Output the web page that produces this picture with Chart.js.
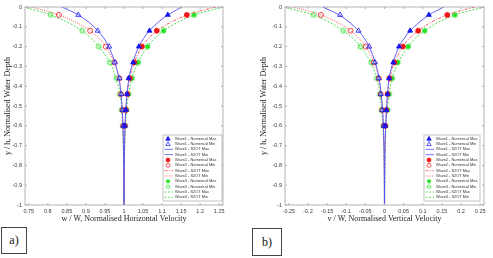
<!DOCTYPE html>
<html>
<head>
<meta charset="utf-8">
<script src="https://cdn.jsdelivr.net/npm/chart.js@4.4.0/dist/chart.umd.min.js"></script>
<style>
  html, body { margin: 0; padding: 0; background: #fff; }
  #wrap { position: relative; width: 493px; height: 258px; overflow: hidden; }
  .panel { position: absolute; top: 0; }
  .tag { position: absolute; box-sizing: border-box; border: 1px solid #444; color: #111;
         font: 12px "Liberation Serif", serif; display: flex; align-items: center; justify-content: center; }
</style>
</head>
<body>
<div id="wrap">
  <canvas id="chartA" class="panel" style="left:0" width="245" height="226"></canvas>
  <canvas id="chartB" class="panel" style="left:245px" width="248" height="226"></canvas>
  <div class="tag" style="left:1px;top:227px;width:26px;height:27px">a)</div>
  <div class="tag" style="left:252px;top:228px;width:30px;height:28px">b)</div>
</div>
<script>
// depths (y / h)
const depthPts  = [-0.04, -0.12, -0.2, -0.28, -0.36, -0.44, -0.52, -0.6];
const depthLine = [0, -0.02, -0.04, -0.08, -0.12, -0.16, -0.2, -0.28, -0.36, -0.44, -0.52, -0.6, -0.7, -0.8, -0.9, -1];

// tick labels
const yTicks  = [0, -0.1, -0.2, -0.3, -0.4, -0.5, -0.6, -0.7, -0.8, -0.9, -1];
const xTicksA = [0.75, 0.8, 0.85, 0.9, 0.95, 1, 1.05, 1.1, 1.15, 1.2, 1.25];
const xTicksB = [-0.25, -0.2, -0.15, -0.1, -0.05, 0, 0.05, 0.1, 0.15, 0.2, 0.25];

// a) horizontal velocity, numerical
const hNum1Max = [1.115, 1.067, 1.039, 1.024, 1.012, 1.008, 1.005, 1.002];
const hNum1Min = [0.880, 0.931, 0.961, 0.976, 0.988, 0.993, 0.996, 0.998];
const hNum2Max = [1.165, 1.086, 1.047, 1.027, 1.015, 1.009, 1.005, 1.002];
const hNum2Min = [0.829, 0.911, 0.952, 0.975, 0.988, 0.992, 0.996, 0.998];
const hNum3Max = [1.184, 1.104, 1.062, 1.037, 1.021, 1.012, 1.007, 1.003];
const hNum3Min = [0.807, 0.890, 0.934, 0.963, 0.980, 0.989, 0.994, 0.997];
// a) horizontal velocity, S2OT
const hLin1Max = [1.151, 1.133, 1.115, 1.088, 1.067, 1.051, 1.039, 1.023, 1.013, 1.008, 1.0045, 1.0026, 1.0013, 1.0007, 1.0003, 1.0002];
const hLin1Min = [0.837, 0.860, 0.880, 0.910, 0.931, 0.948, 0.960, 0.976, 0.987, 0.992, 0.9954, 0.9973, 0.9986, 0.9993, 0.9996, 0.9998];
const hLin2Max = [1.241, 1.200, 1.165, 1.120, 1.086, 1.064, 1.047, 1.027, 1.015, 1.008, 1.005, 1.003, 1.0015, 1.0008, 1.0004, 1.0002];
const hLin2Min = [0.757, 0.795, 0.829, 0.877, 0.911, 0.935, 0.952, 0.974, 0.987, 0.992, 0.995, 0.997, 0.9985, 0.9992, 0.9996, 0.9998];
const hLin3Max = [1.262, 1.220, 1.184, 1.138, 1.104, 1.080, 1.062, 1.037, 1.021, 1.012, 1.007, 1.004, 1.002, 1.001, 1.0005, 1.0003];
const hLin3Min = [0.735, 0.774, 0.807, 0.855, 0.890, 0.915, 0.934, 0.963, 0.979, 0.990, 0.994, 0.996, 0.998, 0.999, 0.9995, 0.9997];

// b) vertical velocity, numerical
const vNum1Max = [0.116, 0.067, 0.038, 0.023, 0.012, 0.008, 0.005, 0.002];
const vNum1Min = [-0.116, -0.068, -0.040, -0.025, -0.015, -0.010, -0.006, -0.002];
const vNum2Max = [0.164, 0.088, 0.048, 0.026, 0.013, 0.008, 0.005, 0.002];
const vNum2Min = [-0.166, -0.089, -0.049, -0.028, -0.015, -0.010, -0.006, -0.002];
const vNum3Max = [0.184, 0.105, 0.062, 0.035, 0.020, 0.012, 0.008, 0.003];
const vNum3Min = [-0.186, -0.108, -0.063, -0.035, -0.020, -0.012, -0.008, -0.003];
// b) vertical velocity, S2OT
const vLin1Max = [0.155, 0.135, 0.116, 0.089, 0.067, 0.051, 0.038, 0.022, 0.012, 0.008, 0.005, 0.003, 0.0015, 0.0008, 0.0004, 0.0002];
const vLin1Min = [-0.162, -0.139, -0.118, -0.090, -0.068, -0.052, -0.040, -0.024, -0.014, -0.009, -0.005, -0.003, -0.0015, -0.0008, -0.0004, -0.0002];
const vLin2Max = [0.235, 0.197, 0.164, 0.119, 0.088, 0.064, 0.048, 0.026, 0.014, 0.008, 0.005, 0.003, 0.0015, 0.0008, 0.0004, 0.0002];
const vLin2Min = [-0.240, -0.201, -0.166, -0.121, -0.089, -0.066, -0.049, -0.027, -0.015, -0.009, -0.005, -0.003, -0.0015, -0.0008, -0.0004, -0.0002];
const vLin3Max = [0.262, 0.220, 0.184, 0.138, 0.105, 0.080, 0.062, 0.036, 0.020, 0.012, 0.007, 0.004, 0.002, 0.001, 0.0005, 0.0003];
const vLin3Min = [-0.265, -0.224, -0.186, -0.141, -0.108, -0.082, -0.063, -0.036, -0.020, -0.012, -0.008, -0.004, -0.002, -0.001, -0.0005, -0.0003];

const legendLabels = [
  'Wave1 - Numerical Max', 'Wave1 - Numerical Min', 'Wave1 - S2OT Max', 'Wave1 - S2OT Min',
  'Wave2 - Numerical Max', 'Wave2 - Numerical Min', 'Wave2 - S2OT Max', 'Wave2 - S2OT Min',
  'Wave3 - Numerical Max', 'Wave3 - Numerical Min', 'Wave3 - S2OT Max', 'Wave3 - S2OT Min'
];

const BLUE = '#1414f0', RED = '#f01414', GREEN = '#22e022';
const BLUE_L = '#5050ff', RED_L = '#ff4a4a', GREEN_L = '#3ad83a';

function hexagram(size, fill, stroke) {
  const c = document.createElement('canvas');
  c.width = c.height = size;
  const g = c.getContext('2d');
  const cx = size / 2, cy = size / 2, r = size / 2 - 0.6;
  g.beginPath();
  for (let k = 0; k < 12; k++) {
    const a = -Math.PI / 2 + k * Math.PI / 6;
    const rr = k % 2 ? r * 0.577 : r;
    const px = cx + rr * Math.cos(a), py = cy + rr * Math.sin(a);
    k ? g.lineTo(px, py) : g.moveTo(px, py);
  }
  g.closePath();
  if (fill) { g.fillStyle = fill; g.fill(); }
  g.strokeStyle = stroke; g.lineWidth = 0.8; g.stroke();
  return c;
}
const starFull = hexagram(7, GREEN, GREEN);
const starOpen = hexagram(7, null, GREEN);

const pts = (xs, ys) => xs.map((x, i) => ({ x: x, y: ys[i] }));

function numSet(label, xs, style, color, filled) {
  return {
    label: label, data: pts(xs, depthPts), showLine: false,
    pointStyle: style, pointRadius: style === 'triangle' ? 2.9 : 2.5,
    pointBorderWidth: 0.8, borderColor: color,
    backgroundColor: filled ? color : 'rgba(0,0,0,0)'
  };
}
function lineSet(label, xs, color, dash) {
  return {
    label: label, data: pts(xs, depthLine), showLine: true, pointRadius: 0,
    borderColor: color, backgroundColor: color, borderWidth: 0.9,
    borderDash: dash, tension: 0.35
  };
}

function buildSets(n1x, n1n, l1x, l1n, n2x, n2n, l2x, l2n, n3x, n3n, l3x, l3n) {
  return [
    numSet(legendLabels[0], n1x, 'triangle', BLUE, true),
    numSet(legendLabels[1], n1n, 'triangle', BLUE, false),
    lineSet(legendLabels[2], l1x, BLUE_L, []),
    lineSet(legendLabels[3], l1n, BLUE_L, []),
    numSet(legendLabels[4], n2x, 'circle', RED, true),
    numSet(legendLabels[5], n2n, 'circle', RED, false),
    lineSet(legendLabels[6], l2x, RED_L, [3, 1.5, 1, 1.5]),
    lineSet(legendLabels[7], l2n, RED_L, [1, 1.2]),
    numSet(legendLabels[8], n3x, starFull, GREEN, true),
    numSet(legendLabels[9], n3n, starOpen, GREEN, false),
    lineSet(legendLabels[10], l3x, GREEN_L, [2, 1.6]),
    lineSet(legendLabels[11], l3n, GREEN_L, [2, 1.6])
  ];
}

// frame with inward tick marks, like the original figure
const framePlugin = {
  id: 'frame',
  afterDatasetsDraw(chart) {
    const { ctx, chartArea: a, scales } = chart;
    ctx.save();
    ctx.strokeStyle = '#a0a0a0';
    ctx.lineWidth = 0.8;
    ctx.strokeRect(a.left, a.top, a.right - a.left, a.bottom - a.top);
    ctx.beginPath();
    scales.x.ticks.forEach(t => {
      const px = scales.x.getPixelForValue(t.value);
      ctx.moveTo(px, a.bottom); ctx.lineTo(px, a.bottom - 2);
      ctx.moveTo(px, a.top); ctx.lineTo(px, a.top + 2);
    });
    scales.y.ticks.forEach(t => {
      const py = scales.y.getPixelForValue(t.value);
      ctx.moveTo(a.left, py); ctx.lineTo(a.left + 2, py);
      ctx.moveTo(a.right, py); ctx.lineTo(a.right - 2, py);
    });
    ctx.stroke();
    ctx.restore();
  }
};

// boxed legend inside the plot area
const boxLegend = {
  id: 'boxLegend',
  afterDraw(chart, args, opts) {
    const ctx = chart.ctx;
    const { x, y, w, h } = opts;
    const sets = chart.data.datasets;
    ctx.save();
    ctx.fillStyle = '#fff';
    ctx.fillRect(x, y, w, h);
    ctx.strokeStyle = '#a8a8a8';
    ctx.lineWidth = 0.7;
    ctx.strokeRect(x, y, w, h);
    const rowH = (h - 2) / sets.length;
    ctx.font = '3.9px "Liberation Sans", sans-serif';
    ctx.textBaseline = 'middle';
    sets.forEach((ds, i) => {
      const cy = y + 1 + rowH * (i + 0.5);
      const mx = x + 5;
      if (ds.showLine) {
        ctx.strokeStyle = ds.borderColor;
        ctx.lineWidth = 0.8;
        ctx.setLineDash(ds.borderDash);
        ctx.beginPath(); ctx.moveTo(x + 1.5, cy); ctx.lineTo(x + 10, cy); ctx.stroke();
        ctx.setLineDash([]);
      } else if (ds.pointStyle instanceof HTMLCanvasElement) {
        ctx.drawImage(ds.pointStyle, mx - 2.6, cy - 2.6, 5.2, 5.2);
      } else {
        ctx.strokeStyle = ds.borderColor;
        ctx.fillStyle = ds.backgroundColor;
        ctx.lineWidth = 0.7;
        ctx.beginPath();
        if (ds.pointStyle === 'triangle') {
          ctx.moveTo(mx, cy - 2.3); ctx.lineTo(mx + 2.2, cy + 1.6); ctx.lineTo(mx - 2.2, cy + 1.6); ctx.closePath();
        } else {
          ctx.arc(mx, cy, 2, 0, Math.PI * 2);
        }
        ctx.fill(); ctx.stroke();
      }
      ctx.fillStyle = '#333';
      ctx.fillText(ds.label, x + 12, cy);
    });
    ctx.restore();
  }
};

const tickFont = { family: '"Liberation Sans", sans-serif', size: 5.5 };
const titleFont = { family: '"Liberation Serif", serif', size: 8 };
const fmt = v => String(+(+v).toFixed(2));

function makeChart(id, sets, xMin, xMax, xTicks, xTitle, yWidth, yTitlePad, pad, legendBox) {
  return new Chart(document.getElementById(id), {
    type: 'scatter',
    data: { datasets: sets },
    options: {
      responsive: false,
      animation: false,
      layout: { padding: pad },
      plugins: { legend: { display: false }, tooltip: { enabled: false }, boxLegend: legendBox },
      scales: {
        x: {
          type: 'linear', min: xMin, max: xMax,
          afterBuildTicks: s => { s.ticks = xTicks.map(v => ({ value: v })); },
          afterFit: s => { s.height = 21; },
          grid: { display: false, drawTicks: false },
          border: { display: false },
          ticks: { font: tickFont, color: '#3a3a3a', padding: 3, maxRotation: 0, autoSkip: false, callback: fmt },
          title: { display: true, text: xTitle, font: titleFont, color: '#222', padding: { top: 0, bottom: 2 } }
        },
        y: {
          type: 'linear', min: -1, max: 0,
          afterBuildTicks: s => { s.ticks = yTicks.map(v => ({ value: v })); },
          afterFit: s => { s.width = yWidth; },
          grid: { display: false, drawTicks: false },
          border: { display: false },
          ticks: { font: tickFont, color: '#3a3a3a', padding: 3, autoSkip: false, callback: fmt },
          title: { display: true, text: 'y / h, Normalised Water Depth', font: titleFont, color: '#222', padding: { top: yTitlePad, bottom: 0 } }
        }
      }
    },
    plugins: [framePlugin, boxLegend]
  });
}

makeChart('chartA',
  buildSets(hNum1Max, hNum1Min, hLin1Max, hLin1Min, hNum2Max, hNum2Min, hLin2Max, hLin2Min, hNum3Max, hNum3Min, hLin3Max, hLin3Min),
  0.74, 1.26, xTicksA, 'w / W\u0304, Normalised Horizontal Velocity', 25, 3,
  { left: 0, top: 7, right: 22, bottom: 0 }, { x: 163, y: 135, w: 59, h: 66 });

makeChart('chartB',
  buildSets(vNum1Max, vNum1Min, vLin1Max, vLin1Min, vNum2Max, vNum2Min, vLin2Max, vLin2Min, vNum3Max, vNum3Min, vLin3Max, vLin3Min),
  -0.26, 0.26, xTicksB, 'v / W\u0304, Normalised Vertical Velocity', 40, 14,
  { left: 0, top: 7, right: 9, bottom: 0 }, { x: 179, y: 135, w: 56, h: 66 });
</script>
</body>
</html>
